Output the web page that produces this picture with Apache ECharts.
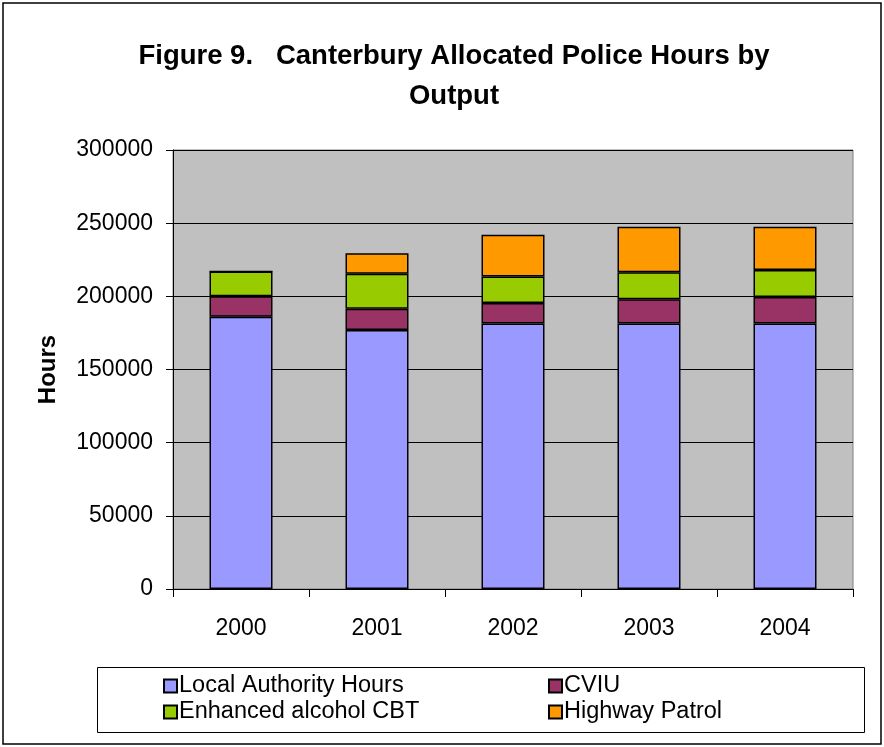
<!DOCTYPE html>
<html>
<head>
<meta charset="utf-8">
<script src="https://cdn.jsdelivr.net/npm/echarts@6/dist/echarts.min.js"></script>
<style>
  html, body { margin: 0; padding: 0; background: #ffffff; }
  #chart { width: 884px; height: 747px; }
</style>
</head>
<body>
<div id="chart"></div>
<script>
// Canterbury allocated police hours by output, 2000–2004 (stacked)
const years = ['2000', '2001', '2002', '2003', '2004'];
const localAuthorityHours = [186000, 177000, 181500, 181500, 181500];
const cviu = [14000, 14500, 14000, 16500, 18000];
const enhancedAlcoholCBT = [17000, 24000, 18000, 18500, 18500];
const highwayPatrol = [0, 14000, 28500, 31000, 29500];
const yTicks = { min: 0, max: 300000, interval: 50000 };

const FONT = "'Liberation Sans', Arial, sans-serif";

function stackSeries(name, data, color) {
  return {
    name: name,
    type: 'bar',
    stack: 'hours',
    data: data,
    barWidth: 63,
    itemStyle: { color: color, borderColor: '#000000', borderWidth: 1.5 },
    emphasis: { disabled: true }
  };
}

const legendText = { fontFamily: FONT, fontSize: 23.5, color: '#000000', lineHeight: 26, padding: [0, 0, 0, -3] };

const chart = echarts.init(document.getElementById('chart'), null, { renderer: 'canvas' });

chart.setOption({
  backgroundColor: '#ffffff',
  animation: false,
  title: {
    text: 'Figure 9.   Canterbury Allocated Police Hours by\nOutput',
    left: 449,
    top: 31,
    textAlign: 'center',
    textStyle: {
      fontFamily: FONT,
      fontSize: 27.5,
      fontWeight: 'bold',
      color: '#000000',
      lineHeight: 40
    }
  },
  grid: {
    left: 173,
    right: 31,
    top: 150,
    bottom: 158,
    show: true,
    backgroundColor: '#c0c0c0',
    borderColor: '#808080',
    borderWidth: 1
  },
  legend: [
    {
      data: ['Local Authority Hours', 'Enhanced alcohol CBT'],
      orient: 'vertical',
      left: 158,
      top: 668,
      itemWidth: 13,
      itemHeight: 13,
      itemGap: 0,
      icon: 'rect',
      textStyle: legendText
    },
    {
      data: ['CVIU', 'Highway Patrol'],
      orient: 'vertical',
      left: 543,
      top: 668,
      itemWidth: 13,
      itemHeight: 13,
      itemGap: 0,
      icon: 'rect',
      textStyle: legendText
    }
  ],
  xAxis: {
    type: 'category',
    data: years,
    boundaryGap: true,
    axisLine: { lineStyle: { color: '#000000', width: 1 } },
    axisTick: { show: true, alignWithLabel: false, length: 8, lineStyle: { color: '#000000' } },
    axisLabel: { margin: 28, fontFamily: FONT, fontSize: 23, color: '#000000' },
    splitLine: { show: false }
  },
  yAxis: {
    type: 'value',
    min: yTicks.min,
    max: yTicks.max,
    interval: yTicks.interval,
    name: 'Hours',
    nameLocation: 'middle',
    nameGap: 113,
    nameTextStyle: { fontFamily: FONT, fontSize: 24, fontWeight: 'bold', color: '#000000' },
    axisLine: { show: true, lineStyle: { color: '#000000', width: 1 } },
    axisTick: { show: true, length: 7, lineStyle: { color: '#000000' } },
    axisLabel: {
      margin: 20,
      fontFamily: FONT,
      fontSize: 23,
      color: '#000000',
      formatter: function (v) { return String(v); }
    },
    splitLine: { show: true, lineStyle: { color: '#000000', width: 1 } }
  },
  series: [
    stackSeries('Local Authority Hours', localAuthorityHours, '#9999ff'),
    stackSeries('CVIU', cviu, '#993366'),
    stackSeries('Enhanced alcohol CBT', enhancedAlcoholCBT, '#99cc00'),
    stackSeries('Highway Patrol', highwayPatrol, '#ff9900')
  ],
  graphic: [
    {
      type: 'rect',
      shape: { x: 3, y: 3, width: 878, height: 741 },
      style: { fill: 'none', stroke: '#000000', lineWidth: 1.5 },
      silent: true,
      z: -1
    },
    {
      type: 'rect',
      shape: { x: 97.5, y: 667.5, width: 767, height: 65 },
      style: { fill: 'none', stroke: '#000000', lineWidth: 1 },
      silent: true,
      z: -1
    }
  ]
});
</script>
</body>
</html>
